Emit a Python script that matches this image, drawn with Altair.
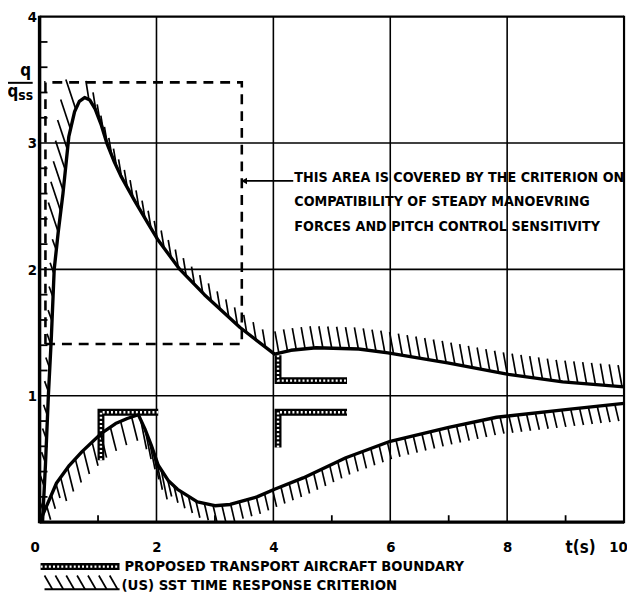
import altair as alt
import numpy as np
import pandas as pd

# ---------------- values ----------------
upper_t = [0.05, 0.10, 0.15, 0.20, 0.25, 0.32, 0.40, 0.50, 0.60, 0.68, 0.77, 0.86, 0.95,
           1.05, 1.15, 1.27, 1.39, 1.63, 1.86, 2.03, 2.40, 2.82, 3.43, 4.02, 4.30, 4.73,
           5.46, 5.96, 6.98, 8.02, 8.95, 10.0]
upper_q = [0.00, 0.45, 1.00, 1.45, 2.00, 2.30, 2.60, 3.05, 3.25, 3.33, 3.36, 3.34, 3.27,
           3.15, 3.00, 2.86, 2.74, 2.54, 2.36, 2.23, 2.00, 1.80, 1.54, 1.33, 1.36, 1.38,
           1.37, 1.34, 1.26, 1.17, 1.11, 1.07]

lower_t = [0.00, 0.29, 0.51, 0.73, 1.05, 1.30, 1.50, 1.69, 1.80, 1.91, 2.03, 2.20, 2.36,
           2.70, 3.00, 3.26, 3.72, 4.02, 4.51, 5.24, 6.00, 7.00, 7.82, 9.00, 10.0]
lower_q = [0.00, 0.31, 0.45, 0.56, 0.70, 0.78, 0.82, 0.85, 0.74, 0.61, 0.45, 0.33, 0.26,
           0.16, 0.13, 0.14, 0.20, 0.26, 0.35, 0.51, 0.64, 0.75, 0.83, 0.89, 0.94]

box_t = [0.10, 0.10, 3.46, 3.46, 0.10]
box_q = [1.41, 3.48, 3.48, 1.41, 1.41]

xh_id = ["A", "A", "A", "B", "B", "B", "C", "C", "C"]
xh_t = [1.05, 1.05, 2.03, 4.08, 4.08, 5.26, 4.08, 4.08, 5.26]
xh_q = [0.49, 0.87, 0.87, 1.32, 1.12, 1.12, 0.59, 0.87, 0.87]

arrow_t = [3.50, 4.34]
arrow_q = [2.70, 2.70]

grid_t = [2, 4, 6, 8]
grid_q = [1, 2, 3]
minor_q = [0.2, 0.4, 0.6, 0.8, 1.2, 1.4, 1.6, 1.8, 2.2, 2.4, 2.6, 2.8, 3.2, 3.4, 3.6, 3.8]
minor_t = [1, 3, 5, 7, 9]
xlabels = [0, 2, 4, 6, 8, 10]
ylabels = [1, 2, 3, 4]

note_lines = ["THIS AREA IS COVERED BY THE CRITERION ON",
              "COMPATIBILITY OF STEADY MANOEVRING",
              "FORCES AND PITCH CONTROL SENSITIVITY"]
legend_texts = ["PROPOSED  TRANSPORT  AIRCRAFT  BOUNDARY",
                "(US)  SST  TIME  RESPONSE  CRITERION"]

# ---------------- layout ----------------
W, H = 592, 512
SX, SY = W / 10.0, H / 4.0
FONT = "Liberation Sans Narrow, DejaVu Sans Condensed, Liberation Sans, sans-serif"

xs = alt.Scale(domain=[0, 10], nice=False, zero=False)
ys = alt.Scale(domain=[0, 4], nice=False, zero=False)
XA = alt.Axis(values=xlabels, labelFont=FONT, labelFontSize=15, labelFontWeight="bold",
              labelColor="black", domain=False, ticks=False, tickSize=0, grid=False,
              title=None, labelPadding=25, labelBaseline="middle", labelFlush=False,
              labelOverlap=False,
              labelOffset={"condition": [{"test": "datum.value == 0", "value": -5},
                                         {"test": "datum.value == 10", "value": -6}],
                           "value": 0})
YA = alt.Axis(values=ylabels, labelFont=FONT, labelFontSize=15, labelFontWeight="bold",
              labelColor="black", domain=False, ticks=False, tickSize=0, grid=False,
              title=None, labelPadding=3, labelBaseline="middle", labelFlush=False,
              labelOverlap=False)


def X(f):
    return alt.X(f, type="quantitative", scale=xs, axis=XA)


def Y(f):
    return alt.Y(f, type="quantitative", scale=ys, axis=YA)


one = pd.DataFrame({"k": [0]})


def hatch(ts, qs, t0, t1, step, vx, vy):
    t = np.asarray(ts, float)
    q = np.asarray(qs, float)
    px, py = t * SX, q * SY
    s = np.concatenate([[0.0], np.cumsum(np.hypot(np.diff(px), np.diff(py)))])
    s0, s1 = np.interp(t0, t, s), np.interp(t1, t, s)
    ss = np.arange(s0 + step / 2.0, s1, step)
    at, aq = np.interp(ss, s, t), np.interp(ss, s, q)
    return pd.DataFrame({"t": at, "q": aq, "t2": at + vx / SX, "q2": aq - vy / SY})


up_groups = [(0.05, 0.30, 24, -4, -11), (0.30, 0.74, 21, -10, -30), (0.74, 1.00, 14, -3, -19),
             (1.00, 4.02, 12, -3, -18), (4.02, 10.0, 9, -4, -22)]
lo_groups = [(0.00, 0.30, 12, 4, 14), (0.30, 1.69, 12, 6, 24), (1.69, 2.15, 11, 6, 30),
             (2.15, 10.0, 9, 4, 17)]
hatch_up = pd.concat([hatch(upper_t, upper_q, *g) for g in up_groups], ignore_index=True)
hatch_lo = pd.concat([hatch(lower_t, lower_q, *g) for g in lo_groups], ignore_index=True)

layers = []

# grid lines
layers.append(alt.Chart(pd.DataFrame({"t": grid_t})).mark_rule(color="black", strokeWidth=1.6)
              .encode(x=X("t"), y=alt.value(0), y2=alt.value(H)))
layers.append(alt.Chart(pd.DataFrame({"q": grid_q})).mark_rule(color="black", strokeWidth=1.6)
              .encode(y=Y("q"), x=alt.value(0), x2=alt.value(W)))
# frame
for tv, sw in [(0, 3.5), (10, 2.2)]:
    layers.append(alt.Chart(pd.DataFrame({"t": [tv]})).mark_rule(color="black", strokeWidth=sw)
                  .encode(x=X("t"), y=alt.value(-1), y2=alt.value(H + 1)))
for qv, sw in [(0, 3.2), (4, 2.4)]:
    layers.append(alt.Chart(pd.DataFrame({"q": [qv]})).mark_rule(color="black", strokeWidth=sw)
                  .encode(y=Y("q"), x=alt.value(0), x2=alt.value(W)))
# minor ticks
layers.append(alt.Chart(pd.DataFrame({"q": minor_q})).mark_rule(color="black", strokeWidth=1.8)
              .encode(y=Y("q"), x=alt.value(0), x2=alt.value(8)))
layers.append(alt.Chart(pd.DataFrame({"t": minor_t})).mark_rule(color="black", strokeWidth=1.8)
              .encode(x=X("t"), y=alt.value(H), y2=alt.value(H - 7)))

# dashed box
layers.append(alt.Chart(pd.DataFrame({"t": box_t, "q": box_q, "i": range(len(box_t))}))
              .mark_line(color="black", strokeWidth=2.6, strokeDash=[10, 7], strokeCap="butt")
              .encode(x=X("t"), y=Y("q"), order="i:Q"))

# cross-hatched boundary
xh = pd.DataFrame({"id": xh_id, "t": xh_t, "q": xh_q, "i": range(len(xh_t))})
layers.append(alt.Chart(xh).mark_line(color="black", strokeWidth=7, strokeCap="butt", strokeJoin="miter")
              .encode(x=X("t"), y=Y("q"), detail="id:N", order="i:Q"))
layers.append(alt.Chart(xh).mark_line(color="white", strokeWidth=2.4, strokeDash=[2, 2.2], strokeCap="butt")
              .encode(x=X("t"), y=Y("q"), detail="id:N", order="i:Q"))

# hatching of the criterion
for hd in (hatch_up, hatch_lo):
    layers.append(alt.Chart(hd).mark_rule(color="black", strokeWidth=1.7, clip=True)
                  .encode(x=X("t"), y=Y("q"), x2="t2:Q", y2="q2:Q"))

# boundary curves
for ct, cq in [(upper_t, upper_q), (lower_t, lower_q)]:
    layers.append(alt.Chart(pd.DataFrame({"t": ct, "q": cq, "i": range(len(ct))}))
                  .mark_line(color="black", strokeWidth=3.4, strokeJoin="round")
                  .encode(x=X("t"), y=Y("q"), order="i:Q"))

# arrow of the note
layers.append(alt.Chart(pd.DataFrame({"t": arrow_t, "q": arrow_q}))
              .mark_line(color="black", strokeWidth=1.8).encode(x=X("t"), y=Y("q")))
layers.append(alt.Chart(pd.DataFrame({"t": [arrow_t[0]], "q": [arrow_q[0]]}))
              .mark_point(shape="triangle-left", filled=True, color="black", size=45, opacity=1)
              .encode(x=X("t"), y=Y("q")))

txt = dict(font=FONT, fontWeight="bold", color="black", baseline="middle")
for k, line in enumerate(note_lines):
    layers.append(alt.Chart(one).mark_text(text=line, fontSize=14.4, align="left", **txt)
                  .encode(x=alt.value(258), y=alt.value(163 + 25 * k)))

# y title  q / q_ss
layers.append(alt.Chart(one).mark_text(text="q", fontSize=17, align="center", **txt)
              .encode(x=alt.value(-14), y=alt.value(55)))
layers.append(alt.Chart(one).mark_rule(color="black", strokeWidth=2)
              .encode(x=alt.value(-33), x2=alt.value(-7), y=alt.value(67)))
layers.append(alt.Chart(one).mark_text(text="q", fontSize=17, align="center", **txt)
              .encode(x=alt.value(-27), y=alt.value(76)))
layers.append(alt.Chart(one).mark_text(text="ss", fontSize=14, align="center", **txt)
              .encode(x=alt.value(-14), y=alt.value(80)))
# x title
layers.append(alt.Chart(one).mark_text(text="t(s)", fontSize=17, align="center", **txt)
              .encode(x=alt.value(548), y=alt.value(538)))

# legend
layers.append(alt.Chart(one).mark_rule(color="black", strokeWidth=7)
              .encode(x=alt.value(1), x2=alt.value(81), y=alt.value(557)))
layers.append(alt.Chart(one).mark_rule(color="white", strokeWidth=2.4, strokeDash=[2, 2.2])
              .encode(x=alt.value(1), x2=alt.value(81), y=alt.value(557)))
layers.append(alt.Chart(one).mark_text(text=legend_texts[0], fontSize=14.8, align="left", **txt)
              .encode(x=alt.value(86), y=alt.value(557)))
layers.append(alt.Chart(one).mark_rule(color="black", strokeWidth=2)
              .encode(x=alt.value(5), x2=alt.value(81), y=alt.value(580)))
for k in range(7):
    layers.append(alt.Chart(one).mark_rule(color="black", strokeWidth=1.7)
                  .encode(x=alt.value(5 + 11 * k), x2=alt.value(13 + 11 * k),
                          y=alt.value(566), y2=alt.value(580)))
layers.append(alt.Chart(one).mark_text(text=legend_texts[1], fontSize=15, align="left", **txt)
              .encode(x=alt.value(83), y=alt.value(576)))

chart = (alt.layer(*layers)
         .properties(width=W, height=H, autosize=alt.AutoSizeParams(type="none"),
                     padding={"left": 32, "top": 5, "right": 3, "bottom": 70},
                     background="white")
         .configure_view(stroke=None))

chart.save("out.html", embed_options={"renderer": "svg", "actions": False})
